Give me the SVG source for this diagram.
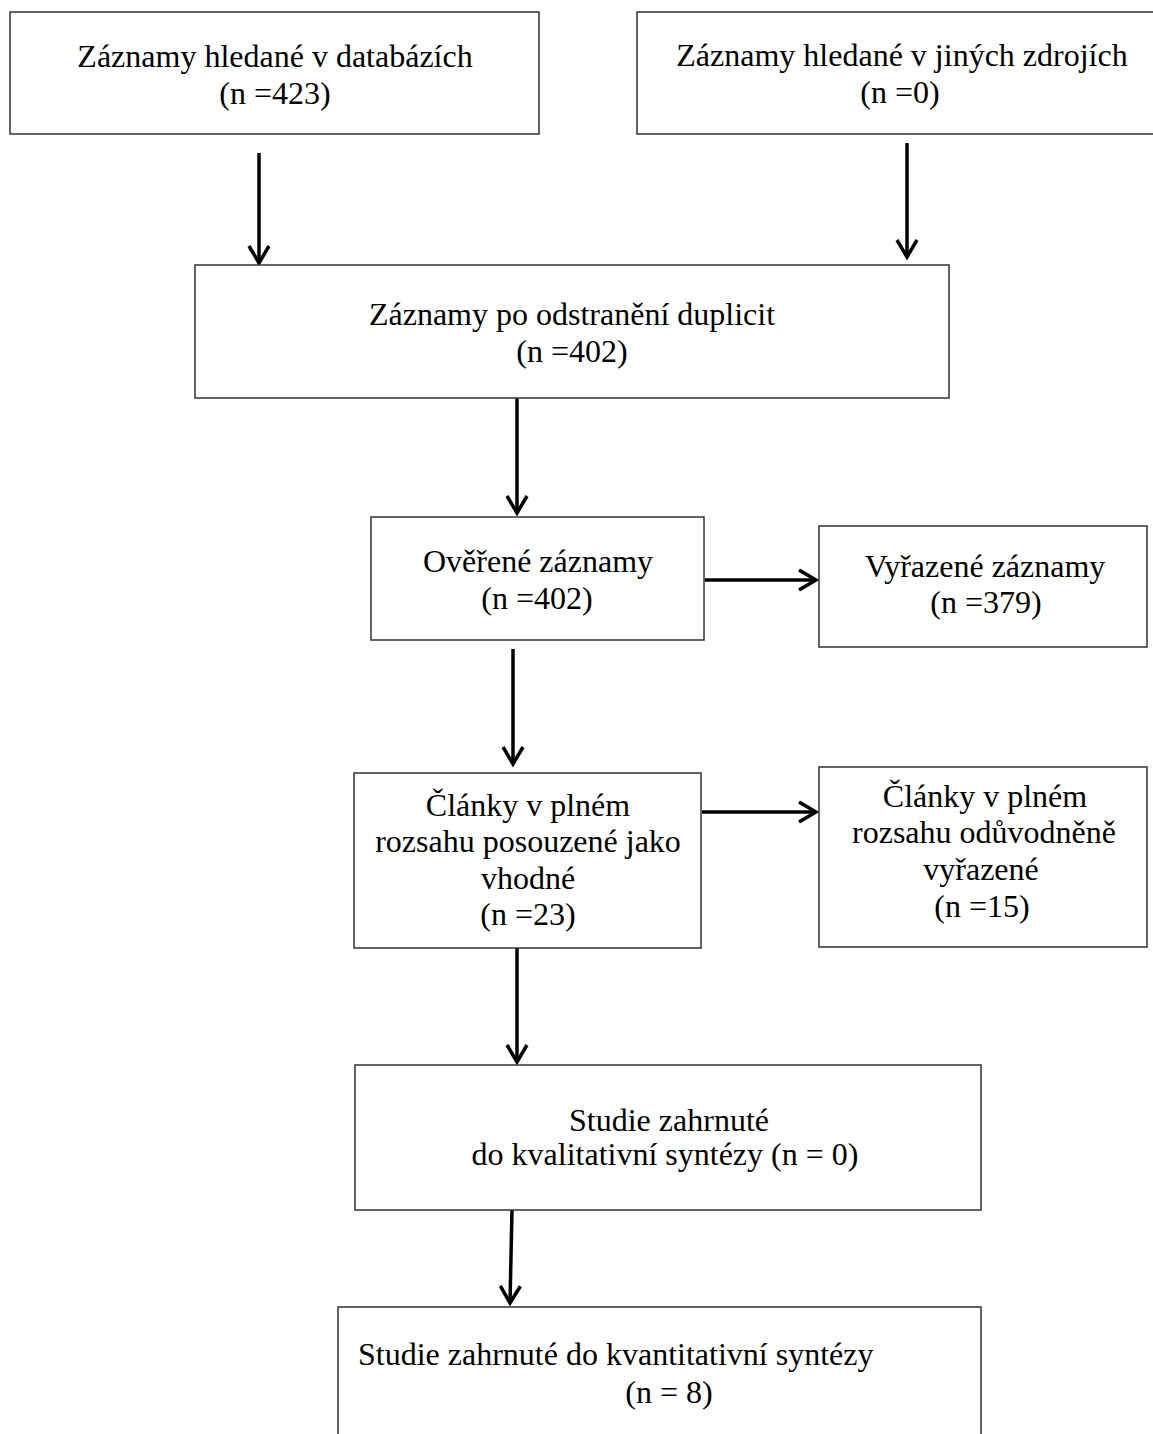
<svg xmlns="http://www.w3.org/2000/svg" width="1153" height="1434" viewBox="0 0 1153 1434">
<style>
.box{fill:#ffffff;stroke:#333333;stroke-width:1.5}
.t{font-family:"Liberation Serif","Times New Roman",serif;font-size:32px;fill:#000000;text-anchor:middle}
.ts{font-family:"Liberation Serif","Times New Roman",serif;font-size:32px;fill:#000000;text-anchor:start}
.arr{stroke:#000000;stroke-width:3.5;fill:none;marker-end:url(#ah)}
</style>
<defs>
<marker id="ah" markerUnits="userSpaceOnUse" markerWidth="30" markerHeight="30" viewBox="0 0 30 30" refX="22" refY="15" orient="auto" overflow="visible">
<path d="M 5 5 L 22 15 L 5 25" fill="none" stroke="#000000" stroke-width="3.5" stroke-linejoin="miter" stroke-linecap="butt"/>
</marker>
</defs>
<rect width="1153" height="1434" fill="#ffffff"/>
<g id="connectors">
<line class="arr" x1="259" y1="153" x2="259" y2="263"/>
<line class="arr" x1="907" y1="143" x2="907" y2="257"/>
<line class="arr" x1="517" y1="398" x2="517" y2="513"/>
<line class="arr" x1="705" y1="580" x2="816" y2="580"/>
<line class="arr" x1="513" y1="649" x2="513" y2="764"/>
<line class="arr" x1="702" y1="812" x2="816" y2="812"/>
<line class="arr" x1="517" y1="948" x2="517" y2="1062"/>
<line class="arr" x1="512" y1="1210" x2="510" y2="1303"/>
</g>
<g id="n1">
<rect class="box" x="10" y="12" width="529" height="122"/>
<text class="t" x="275" y="67">Záznamy hledané v databázích</text>
<text class="t" x="275" y="104">(n =423)</text>
</g>
<g id="n2">
<rect class="box" x="637" y="12" width="530" height="122"/>
<text class="t" x="902" y="66">Záznamy hledané v jiných zdrojích</text>
<text class="t" x="900" y="103">(n =0)</text>
</g>
<g id="n3">
<rect class="box" x="195" y="265" width="754" height="133"/>
<text class="t" x="572" y="325">Záznamy po odstranění duplicit</text>
<text class="t" x="572" y="362">(n =402)</text>
</g>
<g id="n4">
<rect class="box" x="371" y="517" width="333" height="123"/>
<text class="t" x="538" y="572">Ověřené záznamy</text>
<text class="t" x="537" y="609">(n =402)</text>
</g>
<g id="n5">
<rect class="box" x="819" y="526" width="328" height="121"/>
<text class="t" x="985" y="577">Vyřazené záznamy</text>
<text class="t" x="986" y="613">(n =379)</text>
</g>
<g id="n6">
<rect class="box" x="354" y="773" width="347" height="175"/>
<text class="t" x="528" y="816">Články v plném</text>
<text class="t" x="528" y="852">rozsahu posouzené jako</text>
<text class="t" x="528" y="889">vhodné</text>
<text class="t" x="528" y="925">(n =23)</text>
</g>
<g id="n7">
<rect class="box" x="819" y="767" width="328" height="180"/>
<text class="t" x="985" y="807">Články v plném</text>
<text class="t" x="984" y="843">rozsahu odůvodněně</text>
<text class="t" x="981" y="880">vyřazené</text>
<text class="t" x="982" y="917">(n =15)</text>
</g>
<g id="n8">
<rect class="box" x="355" y="1065" width="626" height="145"/>
<text class="t" x="669" y="1131">Studie zahrnuté</text>
<text class="t" x="665" y="1165">do kvalitativní syntézy (n = 0)</text>
</g>
<g id="n9">
<rect class="box" x="338" y="1307" width="643" height="140"/>
<text class="ts" x="358" y="1365">Studie zahrnuté do kvantitativní syntézy</text>
<text class="t" x="669" y="1403">(n = 8)</text>
</g>
</svg>
